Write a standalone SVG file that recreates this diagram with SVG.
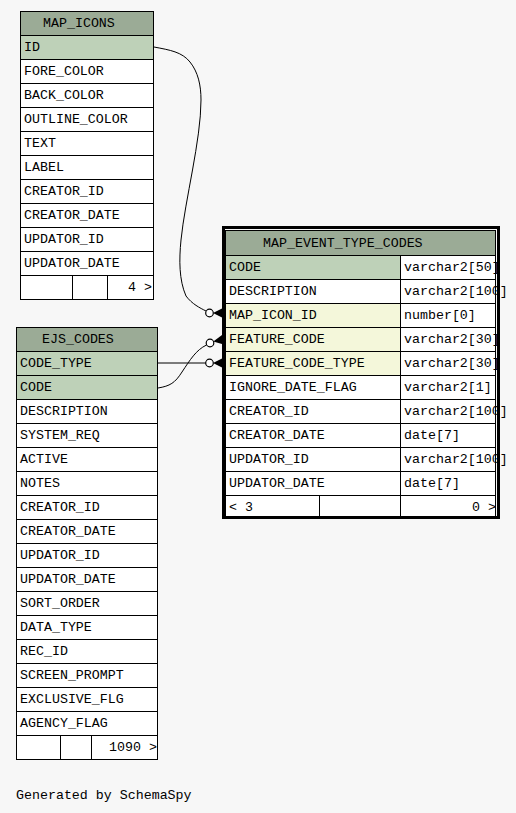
<svg xmlns="http://www.w3.org/2000/svg" width="516" height="813" viewBox="0 0 516 813">
<style>
text{font-family:"Liberation Mono","DejaVu Sans Mono",monospace;font-size:13.3px;fill:#000}
.c{stroke:#000;stroke-width:1;fill:#fff}
.h{stroke:#000;stroke-width:1;fill:#9bab96}
.pk{stroke:#000;stroke-width:1;fill:#bed1b8}
.fk{stroke:#000;stroke-width:1;fill:#f4f7da}
.ln{stroke:#000;stroke-width:1;fill:none}
.dot{stroke:#000;stroke-width:1.2;fill:#fff}
</style>
<rect x="0" y="0" width="516" height="813" fill="#f7f7f7"/>

<g id="connectors">
<path class="ln" d="M154,47 C170,50 182,52 190,62 C198,72 201,85 201,100 C201,140 185,200 181,240 C179,260 179,280 186,296 C192,304 200,308 206,311"/>
<circle class="dot" cx="209.5" cy="313" r="3.8"/>
<polygon points="213,313 222,308.5 222,317.5" fill="#000"/>
<path class="ln" d="M158,363 H206"/>
<circle class="dot" cx="209.5" cy="363" r="3.8"/>
<polygon points="213,363 222,358.5 222,367.5" fill="#000"/>
<path class="ln" d="M158,388 C170,386 175,383 182,372 C190,360 196,350 206.5,345"/>
<circle class="dot" cx="210" cy="343" r="3.8"/>
<polygon points="213.3,341.5 222,335 222,344" fill="#000"/>
</g>

<g id="MAP_ICONS">
<rect class="h" x="20.5" y="11.5" width="133" height="24"/>
<text x="43" y="27">MAP_ICONS</text>
<rect class="pk" x="20.5" y="35.5" width="133" height="24"/>
<text x="24" y="51">ID</text>
<rect class="c" x="20.5" y="59.5" width="133" height="24"/>
<text x="24" y="75">FORE_COLOR</text>
<rect class="c" x="20.5" y="83.5" width="133" height="24"/>
<text x="24" y="99">BACK_COLOR</text>
<rect class="c" x="20.5" y="107.5" width="133" height="24"/>
<text x="24" y="123">OUTLINE_COLOR</text>
<rect class="c" x="20.5" y="131.5" width="133" height="24"/>
<text x="24" y="147">TEXT</text>
<rect class="c" x="20.5" y="155.5" width="133" height="24"/>
<text x="24" y="171">LABEL</text>
<rect class="c" x="20.5" y="179.5" width="133" height="24"/>
<text x="24" y="195">CREATOR_ID</text>
<rect class="c" x="20.5" y="203.5" width="133" height="24"/>
<text x="24" y="219">CREATOR_DATE</text>
<rect class="c" x="20.5" y="227.5" width="133" height="24"/>
<text x="24" y="243">UPDATOR_ID</text>
<rect class="c" x="20.5" y="251.5" width="133" height="24"/>
<text x="24" y="267">UPDATOR_DATE</text>
<rect class="c" x="20.5" y="275.5" width="133" height="24"/>
<path class="ln" d="M72.5,275.5 V299.5 M107.5,275.5 V299.5"/>
<text x="128" y="291">4 &gt;</text>
</g>

<g id="EJS_CODES">
<rect class="h" x="16.5" y="327.5" width="141" height="24"/>
<text x="42" y="343">EJS_CODES</text>
<rect class="pk" x="16.5" y="351.5" width="141" height="24"/>
<text x="20" y="367">CODE_TYPE</text>
<rect class="pk" x="16.5" y="375.5" width="141" height="24"/>
<text x="20" y="391">CODE</text>
<rect class="c" x="16.5" y="399.5" width="141" height="24"/>
<text x="20" y="415">DESCRIPTION</text>
<rect class="c" x="16.5" y="423.5" width="141" height="24"/>
<text x="20" y="439">SYSTEM_REQ</text>
<rect class="c" x="16.5" y="447.5" width="141" height="24"/>
<text x="20" y="463">ACTIVE</text>
<rect class="c" x="16.5" y="471.5" width="141" height="24"/>
<text x="20" y="487">NOTES</text>
<rect class="c" x="16.5" y="495.5" width="141" height="24"/>
<text x="20" y="511">CREATOR_ID</text>
<rect class="c" x="16.5" y="519.5" width="141" height="24"/>
<text x="20" y="535">CREATOR_DATE</text>
<rect class="c" x="16.5" y="543.5" width="141" height="24"/>
<text x="20" y="559">UPDATOR_ID</text>
<rect class="c" x="16.5" y="567.5" width="141" height="24"/>
<text x="20" y="583">UPDATOR_DATE</text>
<rect class="c" x="16.5" y="591.5" width="141" height="24"/>
<text x="20" y="607">SORT_ORDER</text>
<rect class="c" x="16.5" y="615.5" width="141" height="24"/>
<text x="20" y="631">DATA_TYPE</text>
<rect class="c" x="16.5" y="639.5" width="141" height="24"/>
<text x="20" y="655">REC_ID</text>
<rect class="c" x="16.5" y="663.5" width="141" height="24"/>
<text x="20" y="679">SCREEN_PROMPT</text>
<rect class="c" x="16.5" y="687.5" width="141" height="24"/>
<text x="20" y="703">EXCLUSIVE_FLG</text>
<rect class="c" x="16.5" y="711.5" width="141" height="24"/>
<text x="20" y="727">AGENCY_FLAG</text>
<rect class="c" x="16.5" y="735.5" width="141" height="24"/>
<path class="ln" d="M60.5,735.5 V759.5 M91.5,735.5 V759.5"/>
<text x="109" y="751">1090 &gt;</text>
</g>

<g id="MAP_EVENT_TYPE_CODES">
<rect class="h" x="225.5" y="230.5" width="270" height="25"/>
<text x="263" y="247">MAP_EVENT_TYPE_CODES</text>
<rect class="pk" x="225.5" y="255.5" width="175" height="24"/>
<rect class="c" x="400.5" y="255.5" width="95" height="24"/>
<text x="229" y="271">CODE</text><text x="404" y="271">varchar2[50]</text>
<rect class="c" x="225.5" y="279.5" width="175" height="24"/>
<rect class="c" x="400.5" y="279.5" width="95" height="24"/>
<text x="229" y="295">DESCRIPTION</text><text x="404" y="295">varchar2[100]</text>
<rect class="fk" x="225.5" y="303.5" width="175" height="24"/>
<rect class="c" x="400.5" y="303.5" width="95" height="24"/>
<text x="229" y="319">MAP_ICON_ID</text><text x="404" y="319">number[0]</text>
<rect class="fk" x="225.5" y="327.5" width="175" height="24"/>
<rect class="c" x="400.5" y="327.5" width="95" height="24"/>
<text x="229" y="343">FEATURE_CODE</text><text x="404" y="343">varchar2[30]</text>
<rect class="fk" x="225.5" y="351.5" width="175" height="24"/>
<rect class="c" x="400.5" y="351.5" width="95" height="24"/>
<text x="229" y="367">FEATURE_CODE_TYPE</text><text x="404" y="367">varchar2[30]</text>
<rect class="c" x="225.5" y="375.5" width="175" height="24"/>
<rect class="c" x="400.5" y="375.5" width="95" height="24"/>
<text x="229" y="391">IGNORE_DATE_FLAG</text><text x="404" y="391">varchar2[1]</text>
<rect class="c" x="225.5" y="399.5" width="175" height="24"/>
<rect class="c" x="400.5" y="399.5" width="95" height="24"/>
<text x="229" y="415">CREATOR_ID</text><text x="404" y="415">varchar2[100]</text>
<rect class="c" x="225.5" y="423.5" width="175" height="24"/>
<rect class="c" x="400.5" y="423.5" width="95" height="24"/>
<text x="229" y="439">CREATOR_DATE</text><text x="404" y="439">date[7]</text>
<rect class="c" x="225.5" y="447.5" width="175" height="24"/>
<rect class="c" x="400.5" y="447.5" width="95" height="24"/>
<text x="229" y="463">UPDATOR_ID</text><text x="404" y="463">varchar2[100]</text>
<rect class="c" x="225.5" y="471.5" width="175" height="24"/>
<rect class="c" x="400.5" y="471.5" width="95" height="24"/>
<text x="229" y="487">UPDATOR_DATE</text><text x="404" y="487">date[7]</text>
<rect class="c" x="225.5" y="495.5" width="270" height="22"/>
<path class="ln" d="M319.5,495.5 V517 M400.5,495.5 V517"/>
<text x="229" y="511">&lt; 3</text>
<text x="472" y="511">0 &gt;</text>
<rect x="223.5" y="227.5" width="275" height="290" fill="none" stroke="#000" stroke-width="3"/>
</g>

<text x="16" y="799">Generated by SchemaSpy</text>
</svg>
